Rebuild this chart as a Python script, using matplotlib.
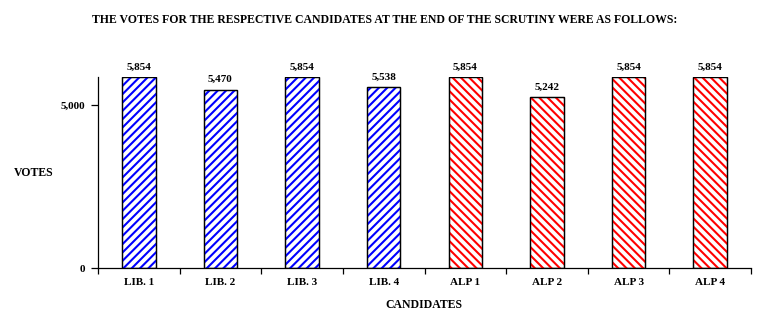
import matplotlib
matplotlib.use("Agg")
import matplotlib.pyplot as plt
import numpy as np

candidates = ["LIB. 1", "LIB. 2", "LIB. 3", "LIB. 4", "ALP 1", "ALP 2", "ALP 3", "ALP 4"]
votes = [5854, 5470, 5854, 5538, 5854, 5242, 5854, 5854]
party = ["LIB", "LIB", "LIB", "LIB", "ALP", "ALP", "ALP", "ALP"]
y_ticks = [0, 5000]

party_color = {"LIB": "#0000ff", "ALP": "#ff0000"}
party_hatch = {"LIB": "////", "ALP": "\\\\\\\\"}

plt.rcParams["font.family"] = ["Liberation Serif", "DejaVu Serif"]
plt.rcParams["font.weight"] = "bold"
plt.rcParams["hatch.linewidth"] = 1.5

fig = plt.figure(figsize=(7.68, 3.24), dpi=100)
ax = fig.add_axes([98 / 768, 56 / 324, (751 - 98) / 768, (268 - 77) / 324])

x = np.arange(len(candidates))
for xi, v, p in zip(x, votes, party):
    ax.bar(xi, v, width=0.41, facecolor="white", edgecolor="black",
           linewidth=0.9, zorder=2)
    ax.bar(xi, v, width=0.41, facecolor="none", edgecolor=party_color[p],
           hatch=party_hatch[p], linewidth=0, zorder=3)
    ax.bar(xi, v, width=0.41, facecolor="none", edgecolor="black",
           linewidth=0.9, zorder=4)
    ax.text(xi, v + 170, f"{v:,}", ha="center", va="bottom",
            fontsize=8, fontweight="bold")

ax.set_xlim(-0.5, len(candidates) - 0.5)
ax.set_ylim(0, max(votes))
ax.set_xticks(x)
ax.set_xticklabels(candidates, fontsize=8, fontweight="bold")
ax.tick_params(axis="x", length=0, pad=7)
ax.set_xticks(np.arange(-0.5, len(candidates)), minor=True)
ax.tick_params(axis="x", which="minor", length=4, direction="out", width=0.9)
ax.set_yticks(y_ticks)
ax.set_yticklabels([f"{t:,}" for t in y_ticks], fontsize=8, fontweight="bold")
ax.tick_params(axis="y", length=5, width=0.9, pad=4)

for s in ["top", "right"]:
    ax.spines[s].set_visible(False)
for s in ["left", "bottom"]:
    ax.spines[s].set_linewidth(0.9)

fig.text(385 / 768, 1 - 20 / 324,
         "THE VOTES FOR THE RESPECTIVE CANDIDATES AT THE END OF THE SCRUTINY WERE AS FOLLOWS:",
         ha="center", va="center", fontsize=8.5, fontweight="bold")
fig.text(34 / 768, 1 - 173 / 324, "VOTES", ha="center", va="center",
         fontsize=8.5, fontweight="bold")
fig.text(424 / 768, 1 - 305 / 324, "CANDIDATES", ha="center", va="center",
         fontsize=8.5, fontweight="bold")

fig.savefig("out.png", dpi=100)
